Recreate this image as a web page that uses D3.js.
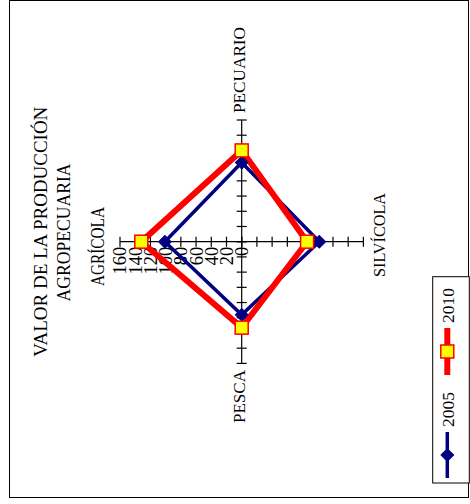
<!DOCTYPE html>
<html><head><meta charset="utf-8">
<script src="https://cdn.jsdelivr.net/npm/d3@7"></script>
<style>body{margin:0;background:#fff}svg{display:block}text{font-family:"Liberation Serif","Times New Roman",serif;fill:#000}</style>
</head><body><svg id="c" width="470" height="504"></svg>
<script>
const categories = ["AGRÍCOLA","PECUARIO","SILVÍCOLA","PESCA"];
const seriesNames = ["2005","2010"];
const values2005 = [101,104,102,96];
const values2010 = [132,120,86,113];
const tickValues = [0,20,40,60,80,100,120,140,160];
const title = ["VALOR DE LA PRODUCCIÓN","AGROPECUARIA"];

const svg = d3.select("#c");
svg.append("rect").attr("x",9.5).attr("y",0.5).attr("width",459).attr("height",497)
  .attr("fill","#fff").attr("stroke","#000").attr("stroke-width",1);

// chart drawn unrotated, then rotated -90 (page x = v, page y = 504 - u)
const g = svg.append("g").attr("transform","translate(0,504) rotate(-90)");
const cu = 262.3, cv = 241.7;
const r = d3.scaleLinear().domain([0,160]).range([0,121.7]);
const angle = i => i*Math.PI/2;
const pt = (i,val) => [cu + r(val)*Math.sin(angle(i)), cv - r(val)*Math.cos(angle(i))];

categories.forEach((c,i)=>{
  const [x2,y2] = pt(i,160);
  g.append("line").attr("x1",cu).attr("y1",cv).attr("x2",x2).attr("y2",y2).attr("stroke","#000").attr("stroke-width",1.2);
  tickValues.forEach(t=>{
    const [px,py] = pt(i,t);
    const nx = Math.cos(angle(i)), ny = Math.sin(angle(i));
    g.append("line").attr("x1",px-5*nx).attr("y1",py-5*ny).attr("x2",px+5*nx).attr("y2",py+5*ny)
      .attr("stroke","#000").attr("stroke-width",1.2);
  });
});
tickValues.forEach(t=>{
  const [px,py] = pt(0,t);
  g.append("text").attr("x",cu-5).attr("y",py).attr("dy","0.35em").attr("text-anchor","end")
    .attr("font-size",18.5).text(t);
});

const line = d3.line().curve(d3.curveLinearClosed);
const pts05 = values2005.map((v,i)=>pt(i,v));
const pts10 = values2010.map((v,i)=>pt(i,v));
g.append("path").attr("d",line(pts05)).attr("fill","none").attr("stroke","#000080").attr("stroke-width",3.5);
g.append("path").attr("d",line(pts10)).attr("fill","none").attr("stroke","#ff0000").attr("stroke-width",6);
const diamond = d3.symbol().type(d3.symbolSquare).size(80);
pts05.forEach(p=>g.append("path").attr("d",diamond()).attr("transform",`translate(${p[0]},${p[1]}) rotate(45)`).attr("fill","#000080").attr("stroke","#000080"));
pts10.forEach(p=>g.append("rect").attr("x",p[0]-6.5).attr("y",p[1]-6.5).attr("width",13).attr("height",13).attr("fill","#ffff00").attr("stroke","#ff0000").attr("stroke-width",1.5));

function txt(s,u,v,anchor,len,fs){
  const t = g.append("text").attr("x",u).attr("y",v).attr("text-anchor",anchor).attr("font-size",fs||17).text(s);
  if(len) t.attr("textLength",len).attr("lengthAdjust","spacingAndGlyphs");
  return t;
}
const labelPos = [
  {u:257.5,v:104,a:"middle",len:79,fs:19},
  {u:391,v:245,a:"start",len:86,fs:17},
  {u:269,v:385,a:"middle",len:84,fs:17},
  {u:134,v:245,a:"end",len:53,fs:17}
];
categories.forEach((c,i)=>txt(c,labelPos[i].u,labelPos[i].v,labelPos[i].a,labelPos[i].len,labelPos[i].fs));
txt(title[0],272.3,47,"middle",250,19);
txt(title[1],271.5,70,"middle",138,19);

// legend
g.append("rect").attr("x",21).attr("y",432.7).attr("width",206.3).attr("height",36.6).attr("fill","#fff").attr("stroke","#000").attr("stroke-width",1);
const leg = [
  {name:seriesNames[0], l0:26, l1:72, tx:77, color:"#000080", w:3.5},
  {name:seriesNames[1], l0:129, l1:176, tx:181, color:"#ff0000", w:6}
];
leg.forEach((d,k)=>{
  g.append("line").attr("x1",d.l0).attr("y1",447.3).attr("x2",d.l1).attr("y2",447.3).attr("stroke",d.color).attr("stroke-width",d.w);
  const m = (d.l0+d.l1)/2;
  if(k===0) g.append("path").attr("d",diamond()).attr("transform",`translate(${m},447.3) rotate(45)`).attr("fill","#000080").attr("stroke","#000080");
  else g.append("rect").attr("x",m-6.5).attr("y",447.3-6.5).attr("width",13).attr("height",13).attr("fill","#ffff00").attr("stroke","#ff0000").attr("stroke-width",1.5);
  txt(d.name,d.tx,453.5,"start",35,17.5);
});
</script></body></html>
